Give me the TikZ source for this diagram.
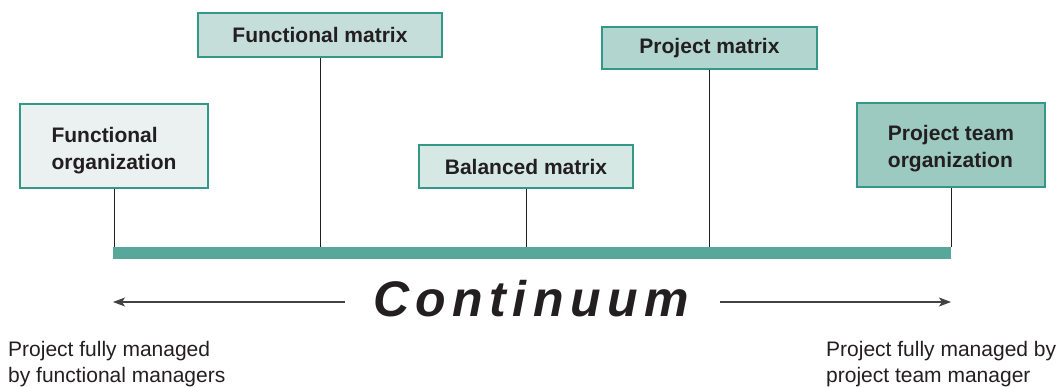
\documentclass[tikz,border=0pt]{standalone}
\usepackage{fontspec}
\setmainfont{Liberation Sans}
\newfontfamily\contfont[LetterSpace=13]{Liberation Sans}
\usetikzlibrary{arrows.meta}
\definecolor{tealborder}{RGB}{52,152,137}
\definecolor{fillA}{RGB}{234,241,240}
\definecolor{fillB}{RGB}{197,222,218}
\definecolor{fillC}{RGB}{214,232,228}
\definecolor{fillD}{RGB}{178,214,207}
\definecolor{fillE}{RGB}{156,201,192}
\definecolor{barcol}{RGB}{88,167,155}
\definecolor{ink}{RGB}{35,31,32}
\tikzset{
  orgbox/.style={draw=tealborder, line width=1.4pt, inner sep=0pt,
    font=\fontsize{21}{27}\selectfont\bfseries, text=ink},
  stem/.style={draw=ink, line width=0.9pt},
  arr/.style={draw=ink!85, line width=1.2pt, -{Stealth[length=12pt,width=9pt,inset=3pt]}},
  note/.style={font=\fontsize{21}{26.5}\selectfont, text=ink, align=left, inner sep=0pt}
}
\begin{document}
\begin{tikzpicture}[x=1pt,y=-1pt]
\path[use as bounding box] (0,0) rectangle (1062,387);
% boxes
\node[orgbox, fill=fillA, minimum width=188pt, minimum height=84pt, align=left] (fo) at (114,146) {\rule{0pt}{25pt}Functional\\organization};
\node[orgbox, fill=fillB, minimum width=244pt, minimum height=44pt] (fm) at (320,35) {Functional matrix};
\node[orgbox, fill=fillC, minimum width=214pt, minimum height=43pt] (bm) at (526,166.5) {Balanced matrix};
\node[orgbox, fill=fillD, minimum width=215pt, minimum height=42pt] (pm) at (709.5,48) {Project matrix};
\node[orgbox, fill=fillE, minimum width=188pt, minimum height=84pt, align=left] (pt) at (951,145) {\rule{0pt}{21.5pt}Project team\\organization};
% bar
\node[fill=barcol, minimum width=838pt, minimum height=12pt, inner sep=0pt, anchor=north west] (bar) at (113,247) {};
% stems
\draw[stem] (fo.south) -- (fo.south |- bar.north);
\draw[stem] (fm.south) -- (fm.south |- bar.north);
\draw[stem] (bm.south) -- (bm.south |- bar.north);
\draw[stem] (pm.south) -- (pm.south |- bar.north);
\draw[stem] (pt.south) -- (pt.south |- bar.north);
% continuum
\node[anchor=base, inner sep=0pt, text=ink, font=\contfont\fontsize{50}{50}\selectfont\bfseries\itshape] (cont) at (531,316) {Continuum};
\coordinate (ls) at (345,302);
\coordinate (le) at (113,302);
\coordinate (rs) at (720,302);
\coordinate (re) at (951,302);
\draw[arr] (ls) -- (le);
\draw[arr] (rs) -- (re);
% notes
\node[note, anchor=north west] (nl) at (8,341) {Project fully managed\\by functional managers};
\node[note, anchor=north west] (nr) at (826,341) {Project fully managed by\\project team manager};
\end{tikzpicture}
\end{document}
